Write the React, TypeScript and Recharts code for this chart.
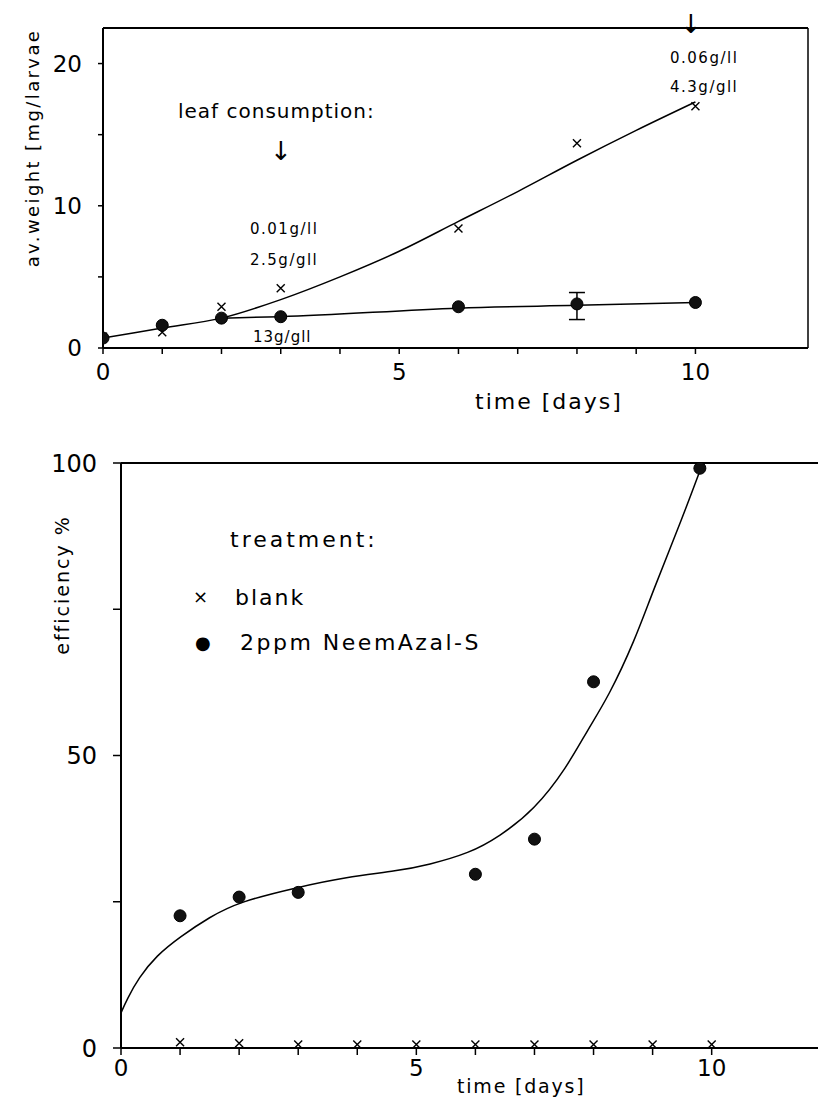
import React from 'react';
import { ComposedChart, XAxis, YAxis, Line, Scatter, ErrorBar, ReferenceLine } from 'recharts';

// ---------- top panel data ----------
const topDays = [0, 1, 2, 3, 6, 8, 10];
const blankWeight = [0.8, 1.1, 2.9, 4.2, 8.4, 14.4, 17.0];
const neemWeight = [0.7, 1.6, 2.1, 2.2, 2.9, 3.1, 3.2];
const errDay = 8;
const errLow = 2.0;
const errHigh = 3.9;
const upperFitDays = [0, 1, 2, 3, 4, 5, 6, 7, 8, 9, 10];
const upperFitWeight = [0.7, 1.4, 2.1, 3.4, 5.0, 6.8, 8.9, 11.0, 13.2, 15.3, 17.3];
const lowerFitDays = [2, 3, 6, 8, 10];
const lowerFitWeight = [2.1, 2.2, 2.8, 3.0, 3.2];
const topXTicks = [0, 1, 2, 3, 4, 5, 6, 7, 8, 9, 10];
const topYTicks = [0, 5, 10, 15, 20];
const topXLabels = [0, 5, 10];
const topYLabels = [0, 10, 20];

// ---------- bottom panel data ----------
const neemDays = [1, 2, 3, 6, 7, 8, 9.8];
const neemEff = [22.6, 25.8, 26.6, 29.7, 35.7, 62.6, 99.1];
const blankDays = [1, 2, 3, 4, 5, 6, 7, 8, 9, 10];
const blankEff = [1.0, 0.8, 0.6, 0.6, 0.6, 0.6, 0.6, 0.6, 0.6, 0.6];
const effFitDays = [0, 0.1, 0.3, 0.6, 1, 1.5, 2, 3, 3.8, 4.7, 5.2, 5.9, 6.4, 7, 7.55, 7.9, 8.25, 8.7, 9, 9.5, 9.85];
const effFit = [6, 8.3, 12.0, 15.8, 19, 22.4, 25, 27.5, 29.2, 30.3, 31.3, 33.3, 36.1, 40.7, 48, 54.4, 60, 69.7, 78, 90.5, 100];
const botXTicks = [0, 1, 2, 3, 4, 5, 6, 7, 8, 9, 10];
const botYTicks = [0, 25, 50, 75, 100];
const botXLabels = [0, 5, 10];
const botYLabels = [0, 50, 100];

const FONT = '"DejaVu Sans", sans-serif';

const zip = (xs: number[], ys: number[]) => xs.map((x, i) => ({ x, y: ys[i] }));

const errIdx = topDays.indexOf(errDay);
const topBlank = zip(topDays, blankWeight);
const topNeem = zip(topDays, neemWeight);
const topErr = [{ x: errDay, y: neemWeight[errIdx], err: [neemWeight[errIdx] - errLow, errHigh - neemWeight[errIdx]] }];
const upperFit = zip(upperFitDays, upperFitWeight);
const lowerFit = zip(lowerFitDays, lowerFitWeight);

const botNeem = zip(neemDays, neemEff);
const botBlank = zip(blankDays, blankEff);
const botFit = zip(effFitDays, effFit);

const Cross = (props: any) => {
  const { cx, cy } = props;
  const s = 4;
  return (
    <path
      d={`M${cx - s},${cy - s}L${cx + s},${cy + s}M${cx - s},${cy + s}L${cx + s},${cy - s}`}
      stroke="#000"
      strokeWidth={1.4}
      fill="none"
    />
  );
};

const DotShape = (props: any) => {
  const { cx, cy } = props;
  return <circle cx={cx} cy={cy} r={6} fill="#111" stroke="#000" strokeWidth={1} />;
};

const NoShape = () => <g />;

const txt = (left: number, cy: number, size: number, ls: number, content: string, extra: any = {}) => (
  <div
    style={{
      position: 'absolute',
      left,
      top: cy,
      transform: 'translateY(-50%)',
      fontFamily: FONT,
      fontSize: size,
      letterSpacing: ls,
      lineHeight: 1,
      whiteSpace: 'nowrap',
      color: '#000',
      ...extra,
    }}
  >
    {content}
  </div>
);

const vtxt = (cx: number, cy: number, size: number, ls: number, content: string) => (
  <div
    style={{
      position: 'absolute',
      left: cx,
      top: cy,
      transform: 'translate(-50%, -50%) rotate(-90deg)',
      fontFamily: FONT,
      fontSize: size,
      letterSpacing: ls,
      lineHeight: 1,
      whiteSpace: 'nowrap',
      color: '#000',
    }}
  >
    {content}
  </div>
);

const axisLine = { stroke: '#000', strokeWidth: 2 };
const tickLine = { stroke: '#000', strokeWidth: 1.5 };

export default function App() {
  return (
    <div style={{ position: 'absolute', left: 0, top: 0, width: 819, height: 1098, background: '#fff', overflow: 'hidden' }}>
      <div style={{ position: 'absolute', left: 0, top: 0 }}>
        <ComposedChart width={819} height={420} margin={{ top: 28, right: 11, bottom: 32, left: 43 }}>
          <XAxis
            dataKey="x"
            type="number"
            domain={[0, 11.9]}
            ticks={topXTicks}
            allowDataOverflow
            tickFormatter={(v: number) => (topXLabels.includes(v) ? String(v) : '')}
            axisLine={axisLine}
            tickLine={tickLine}
            tickSize={6}
            tickMargin={10}
            height={40}
            tick={{ fontSize: 23, fill: '#000', fontFamily: FONT }}
          />
          <YAxis
            type="number"
            domain={[0, 22.5]}
            ticks={topYTicks}
            allowDataOverflow
            tickFormatter={(v: number) => (topYLabels.includes(v) ? String(v) : '')}
            axisLine={axisLine}
            tickLine={tickLine}
            tickSize={5}
            tickMargin={6}
            width={60}
            tick={{ fontSize: 23, fill: '#000', fontFamily: FONT, dx: -10 }}
          />
          <ReferenceLine y={22.5} stroke="#000" strokeWidth={2} />
          <ReferenceLine x={11.9} stroke="#000" strokeWidth={1.5} />
          <Line data={upperFit} dataKey="y" type="monotone" stroke="#000" strokeWidth={1.5} dot={false} isAnimationActive={false} />
          <Line data={lowerFit} dataKey="y" type="monotone" stroke="#000" strokeWidth={1.5} dot={false} isAnimationActive={false} />
          <Scatter data={topBlank} dataKey="y" shape={Cross} isAnimationActive={false} />
          <Scatter data={topNeem} dataKey="y" shape={DotShape} isAnimationActive={false} />
          <Scatter data={topErr} dataKey="y" shape={NoShape} isAnimationActive={false}>
            <ErrorBar dataKey="err" direction="y" width={8} stroke="#000" strokeWidth={1.5} isAnimationActive={false} />
          </Scatter>
        </ComposedChart>
      </div>

      <div style={{ position: 'absolute', left: 0, top: 430 }}>
        <ComposedChart width={819} height={668} margin={{ top: 33, right: 1, bottom: 10, left: 61 }}>
          <XAxis
            dataKey="x"
            type="number"
            domain={[0, 11.8]}
            ticks={botXTicks}
            allowDataOverflow
            tickFormatter={(v: number) => (botXLabels.includes(v) ? String(v) : '')}
            axisLine={axisLine}
            tickLine={tickLine}
            tickSize={7}
            tickMargin={5}
            height={40}
            tick={{ fontSize: 23, fill: '#000', fontFamily: FONT }}
          />
          <YAxis
            type="number"
            domain={[0, 100]}
            ticks={botYTicks}
            allowDataOverflow
            tickFormatter={(v: number) => (botYLabels.includes(v) ? String(v) : '')}
            axisLine={axisLine}
            tickLine={tickLine}
            tickSize={8}
            tickMargin={6}
            width={60}
            tick={{ fontSize: 24, fill: '#000', fontFamily: FONT, dx: -10 }}
          />
          <ReferenceLine y={100} stroke="#000" strokeWidth={2} />
          <Line data={botFit} dataKey="y" type="basis" stroke="#000" strokeWidth={1.5} dot={false} isAnimationActive={false} />
          <Scatter data={botBlank} dataKey="y" shape={Cross} isAnimationActive={false} />
          <Scatter data={botNeem} dataKey="y" shape={DotShape} isAnimationActive={false} />
        </ComposedChart>
      </div>

      {/* top panel texts */}
      {vtxt(33, 148, 18, 2.4, 'av.weight [mg/larvae')}
      {txt(178, 111, 20, 1, 'leaf consumption:')}
      {txt(270, 151, 26, 0, '↓')}
      {txt(250, 229, 15, 1.5, '0.01g/ll')}
      {txt(250, 260, 15, 1.5, '2.5g/gll')}
      {txt(253, 337, 15, 1, '13g/gll')}
      {txt(680, 24, 26, 0, '↓')}
      {txt(670, 58, 15, 1.5, '0.06g/ll')}
      {txt(670, 87, 15, 1.5, '4.3g/gll')}
      {txt(475, 402, 22, 2, 'time [days]')}

      {/* bottom panel texts */}
      {vtxt(62, 585, 19, 2, 'efficiency %')}
      {txt(230, 540, 22, 3, 'treatment:')}
      {txt(193, 597, 18, 0, '×')}
      {txt(235, 598, 22, 2, 'blank')}
      {txt(195, 643, 18, 0, '●')}
      {txt(240, 643, 22, 2.5, '2ppm NeemAzal-S')}
      {txt(457, 1086, 19, 1.8, 'time [days]')}
    </div>
  );
}
